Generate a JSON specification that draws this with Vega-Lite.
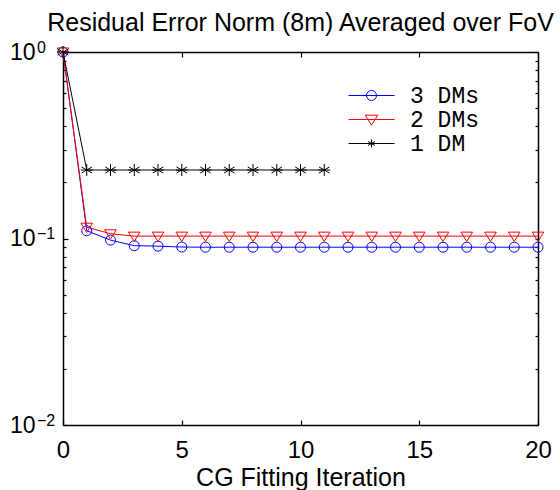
{
  "$schema": "https://vega.github.io/schema/vega-lite/v6.json",
  "width": 475,
  "height": 373,
  "autosize": {"type": "none"},
  "padding": {"left": 63, "top": 52, "right": 22, "bottom": 65},
  "background": "white",
  "config": {
    "view": {"stroke": null},
    "font": "Liberation Sans",
    "axis": {"grid": false, "domainColor": "black", "tickColor": "black", "labelColor": "black", "titleColor": "black", "domainWidth": 1.5, "tickWidth": 1.2, "labelFont": "Liberation Sans", "titleFont": "Liberation Sans"}
  },
  "title": {"text": "Residual Error Norm (8m) Averaged over FoV", "fontSize": 25, "fontWeight": "normal", "font": "Liberation Sans", "color": "black", "anchor": "middle", "frame": "group", "baseline": "alphabetic", "offset": -17},
  "data": {"values": [
    {"series": "3 DMs", "iter": 0, "value": 1.0},
    {"series": "3 DMs", "iter": 1, "value": 0.110},
    {"series": "3 DMs", "iter": 2, "value": 0.098},
    {"series": "3 DMs", "iter": 3, "value": 0.0915},
    {"series": "3 DMs", "iter": 4, "value": 0.0910},
    {"series": "3 DMs", "iter": 5, "value": 0.0900},
    {"series": "3 DMs", "iter": 6, "value": 0.0898},
    {"series": "3 DMs", "iter": 7, "value": 0.0898},
    {"series": "3 DMs", "iter": 8, "value": 0.0898},
    {"series": "3 DMs", "iter": 9, "value": 0.0898},
    {"series": "3 DMs", "iter": 10, "value": 0.0898},
    {"series": "3 DMs", "iter": 11, "value": 0.0898},
    {"series": "3 DMs", "iter": 12, "value": 0.0898},
    {"series": "3 DMs", "iter": 13, "value": 0.0898},
    {"series": "3 DMs", "iter": 14, "value": 0.0898},
    {"series": "3 DMs", "iter": 15, "value": 0.0898},
    {"series": "3 DMs", "iter": 16, "value": 0.0898},
    {"series": "3 DMs", "iter": 17, "value": 0.0898},
    {"series": "3 DMs", "iter": 18, "value": 0.0898},
    {"series": "3 DMs", "iter": 19, "value": 0.0898},
    {"series": "3 DMs", "iter": 20, "value": 0.0898},
    {"series": "2 DMs", "iter": 0, "value": 1.0},
    {"series": "2 DMs", "iter": 1, "value": 0.115},
    {"series": "2 DMs", "iter": 2, "value": 0.106},
    {"series": "2 DMs", "iter": 3, "value": 0.103},
    {"series": "2 DMs", "iter": 4, "value": 0.103},
    {"series": "2 DMs", "iter": 5, "value": 0.103},
    {"series": "2 DMs", "iter": 6, "value": 0.103},
    {"series": "2 DMs", "iter": 7, "value": 0.103},
    {"series": "2 DMs", "iter": 8, "value": 0.103},
    {"series": "2 DMs", "iter": 9, "value": 0.103},
    {"series": "2 DMs", "iter": 10, "value": 0.103},
    {"series": "2 DMs", "iter": 11, "value": 0.103},
    {"series": "2 DMs", "iter": 12, "value": 0.103},
    {"series": "2 DMs", "iter": 13, "value": 0.103},
    {"series": "2 DMs", "iter": 14, "value": 0.103},
    {"series": "2 DMs", "iter": 15, "value": 0.103},
    {"series": "2 DMs", "iter": 16, "value": 0.103},
    {"series": "2 DMs", "iter": 17, "value": 0.103},
    {"series": "2 DMs", "iter": 18, "value": 0.103},
    {"series": "2 DMs", "iter": 19, "value": 0.103},
    {"series": "2 DMs", "iter": 20, "value": 0.103},
    {"series": "1 DM", "iter": 0, "value": 1.0},
    {"series": "1 DM", "iter": 1, "value": 0.233},
    {"series": "1 DM", "iter": 2, "value": 0.233},
    {"series": "1 DM", "iter": 3, "value": 0.233},
    {"series": "1 DM", "iter": 4, "value": 0.233},
    {"series": "1 DM", "iter": 5, "value": 0.233},
    {"series": "1 DM", "iter": 6, "value": 0.233},
    {"series": "1 DM", "iter": 7, "value": 0.233},
    {"series": "1 DM", "iter": 8, "value": 0.233},
    {"series": "1 DM", "iter": 9, "value": 0.233},
    {"series": "1 DM", "iter": 10, "value": 0.233},
    {"series": "1 DM", "iter": 11, "value": 0.233}
  ]},
  "resolve": {
    "axis": {"x": "independent", "y": "independent"},
    "scale": {"shape": "independent"},
    "legend": {"color": "independent", "shape": "independent"}
  },
  "layer": [
    {
      "mark": {"type": "line", "strokeWidth": 1},
      "encoding": {
        "x": {"field": "iter", "type": "quantitative", "scale": {"domain": [0, 20], "nice": false, "zero": false},
          "axis": {"orient": "bottom", "values": [0, 5, 10, 15, 20], "tickSize": -5, "labelPadding": 18, "labelFontSize": 24, "labelFlush": false, "title": "CG Fitting Iteration", "titleFontSize": 25, "titleFontWeight": "normal", "titlePadding": 3}},
        "y": {"field": "value", "type": "quantitative", "scale": {"type": "log", "domain": [0.01, 1], "nice": false},
          "axis": {"orient": "left", "values": [0.01, 0.1, 1], "tickSize": -5, "labelExpr": "'10'", "labelPadding": 33, "labelFontSize": 23, "labelAlign": "right", "labelBaseline": "middle", "labelDy": 1, "labelFlush": false, "title": null}},
        "color": {"field": "series", "type": "nominal", "sort": ["3 DMs", "2 DMs", "1 DM"],
          "scale": {"domain": ["3 DMs", "2 DMs", "1 DM"], "range": ["#0000ff", "#ff0000", "#000000"]}, "legend": null}
      }
    },
    {
      "mark": {"type": "point", "filled": false, "strokeWidth": 1, "opacity": 1},
      "encoding": {
        "x": {"field": "iter", "type": "quantitative", "scale": {"domain": [0, 20], "nice": false, "zero": false},
          "axis": {"orient": "top", "values": [5, 10, 15], "tickSize": -5, "labels": false, "title": null}},
        "y": {"field": "value", "type": "quantitative", "scale": {"type": "log", "domain": [0.01, 1], "nice": false},
          "axis": {"orient": "left", "values": [0.01, 0.1, 1], "ticks": false, "domain": false, "labelExpr": "datum.value < 0.05 ? '\u22122' : datum.value < 0.5 ? '\u22121' : '0'", "labelPadding": 26.5, "labelFontSize": 16, "labelAlign": "left", "labelBaseline": "alphabetic", "labelDy": -6, "labelFlush": false, "title": null}},
        "color": {"field": "series", "type": "nominal", "sort": ["3 DMs", "2 DMs", "1 DM"], "scale": {"domain": ["3 DMs", "2 DMs", "1 DM"], "range": ["#0000ff", "#ff0000", "#000000"]}, "legend": null},
        "shape": {"field": "series", "type": "nominal", "legend": null,
          "scale": {"domain": ["3 DMs", "2 DMs", "1 DM"], "range": ["circle", "M-1.05,-0.72L1.05,-0.72L0,0.95Z", "M0,-1L0,1M-0.87,-0.5L0.87,0.5M-0.87,0.5L0.87,-0.5M-1,0L1,0"]}},
        "size": {"field": "series", "type": "nominal", "legend": null,
          "scale": {"domain": ["3 DMs", "2 DMs", "1 DM"], "range": [100, 144, 64]}}
      }
    },
    {
      "mark": {"type": "point", "opacity": 0},
      "encoding": {
        "x": {"field": "iter", "type": "quantitative", "scale": {"domain": [0, 20], "nice": false, "zero": false}, "axis": null},
        "y": {"field": "value", "type": "quantitative", "scale": {"type": "log", "domain": [0.01, 1], "nice": false},
          "axis": {"orient": "left", "values": [0.02, 0.03, 0.04, 0.05, 0.06, 0.07, 0.08, 0.09, 0.2, 0.3, 0.4, 0.5, 0.6, 0.7, 0.8, 0.9], "tickSize": -3, "labels": false, "domain": false, "title": null}}
      }
    },
    {
      "mark": {"type": "point", "opacity": 0},
      "encoding": {
        "x": {"field": "iter", "type": "quantitative", "scale": {"domain": [0, 20], "nice": false, "zero": false}, "axis": null},
        "y": {"field": "value", "type": "quantitative", "scale": {"type": "log", "domain": [0.01, 1], "nice": false},
          "axis": {"orient": "right", "values": [0.01, 0.02, 0.03, 0.04, 0.05, 0.06, 0.07, 0.08, 0.09, 0.1, 0.2, 0.3, 0.4, 0.5, 0.6, 0.7, 0.8, 0.9, 1], "tickSize": -3, "labels": false, "title": null}}
      }
    },
    {
      "transform": [{"filter": "datum.iter < 0"}],
      "mark": {"type": "point", "filled": false, "strokeWidth": 1, "opacity": 1},
      "encoding": {
        "x": {"field": "iter", "type": "quantitative", "scale": {"domain": [0, 20], "nice": false, "zero": false}, "axis": null},
        "y": {"field": "value", "type": "quantitative", "scale": {"type": "log", "domain": [0.01, 1], "nice": false}, "axis": null},
        "color": {"field": "series", "type": "nominal", "sort": ["3 DMs", "2 DMs", "1 DM"],
          "scale": {"domain": ["3 DMs", "2 DMs", "1 DM"], "range": ["#0000ff", "#ff0000", "#000000"]},
          "legend": {"orient": "none", "legendX": 297, "legendY": 32, "title": null, "padding": 0, "symbolSize": 100, "symbolStrokeWidth": 1, "labelFont": "Liberation Mono", "labelFontSize": 23, "labelColor": "black", "labelOffset": 27, "rowPadding": 0}},
        "shape": {"field": "series", "type": "nominal", "sort": ["3 DMs", "2 DMs", "1 DM"],
          "scale": {"domain": ["3 DMs", "2 DMs", "1 DM"], "range": ["M-4.6,0L4.6,0M-1,0A1,1 0 1 1 1,0A1,1 0 1 1 -1,0", "M-4.6,0L4.6,0M-1.26,-0.86L1.26,-0.86L0,1.14Z", "M-4.6,0L4.6,0M0,-0.8L0,0.8M-0.7,-0.4L0.7,0.4M-0.7,0.4L0.7,-0.4"]},
          "legend": {"orient": "none", "legendX": 297, "legendY": 32, "title": null, "padding": 0, "symbolSize": 100, "symbolStrokeWidth": 1, "labelFont": "Liberation Mono", "labelFontSize": 23, "labelColor": "black", "labelOffset": 27, "rowPadding": 0}}
      }
    }
  ]
}
